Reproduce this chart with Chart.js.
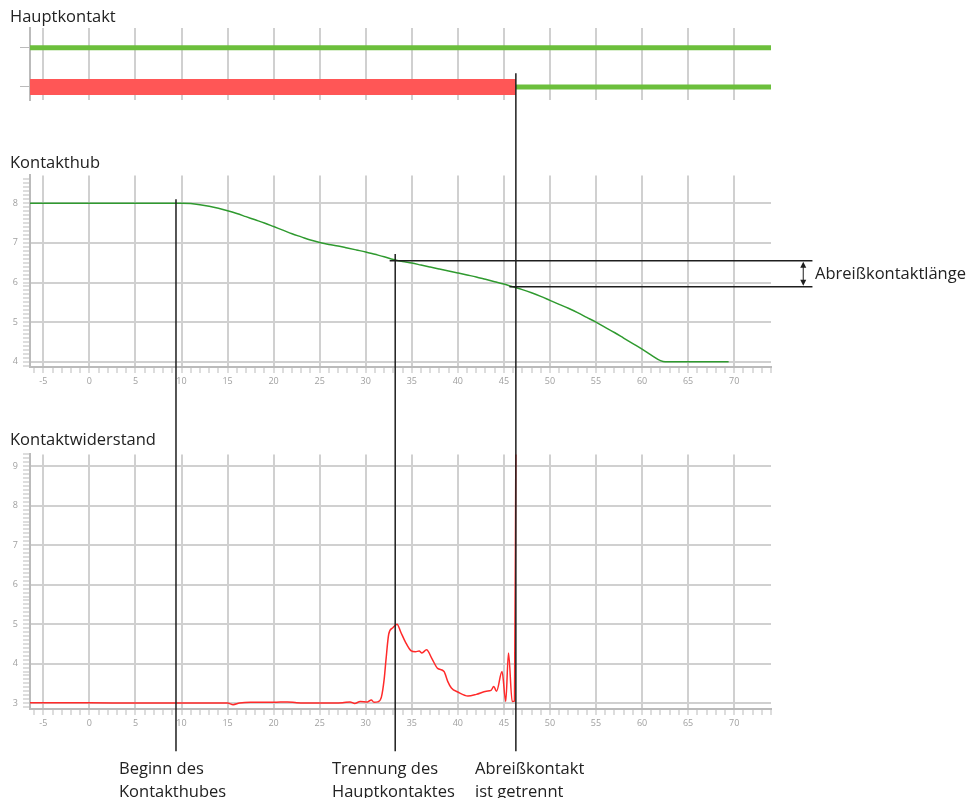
<!DOCTYPE html>
<html><head><meta charset="utf-8">
<script src="https://cdn.jsdelivr.net/npm/chart.js@4"></script>
<style>
html,body{margin:0;padding:0;background:#fff;}
#wrap{position:relative;width:971px;height:798px;overflow:hidden;background:#fff;font-family:"Open Sans",sans-serif;color:#222;}
canvas{position:absolute;left:0;}
.lbl{position:absolute;font-size:16.5px;line-height:16px;white-space:nowrap;}
.ev{position:absolute;font-size:16.5px;line-height:23px;white-space:nowrap;}
</style></head>
<body><div id="wrap">
<canvas id="c1" width="971" height="90" style="top:20px"></canvas>
<canvas id="c2" width="971" height="230" style="top:165px"></canvas>
<canvas id="c3" width="971" height="292" style="top:444px"></canvas>
<canvas id="ov" width="971" height="798" style="top:0;pointer-events:none"></canvas>
<div class="lbl" style="left:10px;top:8px">Hauptkontakt</div>
<div class="lbl" style="left:10px;top:154px">Kontakthub</div>
<div class="lbl" style="left:10px;top:431px">Kontaktwiderstand</div>
<div class="lbl" style="left:815px;top:265px">Abreißkontaktlänge</div>
<div class="ev" style="left:119px;top:756px">Beginn des<br>Kontakthubes</div>
<div class="ev" style="left:332px;top:756px">Trennung des<br>Hauptkontaktes</div>
<div class="ev" style="left:475px;top:756px">Abreißkontakt<br>ist getrennt</div>
</div>
<script>
// ---- data ----
const X_MIN = -6.45, X_MAX = 74;
const rowLevels = [4, 1];
const greenSegments = [[X_MIN, X_MAX, 4], [46.3, X_MAX, 1]];
const redSegments = [[X_MIN, 46.3, 1]];

const hubX = [-6.45, 0, 5, 10, 11, 12, 13, 14, 15, 16, 17, 18, 19, 20, 21, 22, 23, 24, 25, 26, 27, 28, 29, 30, 31, 32, 33, 34, 35, 36, 37, 38, 39, 40, 41, 42, 43, 44, 45, 46, 47, 48, 49, 50, 51, 52, 53, 54, 55, 56, 57, 58, 59, 60, 61, 62, 62.5, 65, 69.4];
const hubY = [8.0, 8.0, 8.0, 8.0, 7.99, 7.96, 7.92, 7.87, 7.81, 7.74, 7.66, 7.58, 7.50, 7.41, 7.32, 7.23, 7.15, 7.07, 7.01, 6.96, 6.92, 6.87, 6.82, 6.77, 6.71, 6.65, 6.58, 6.53, 6.49, 6.44, 6.39, 6.34, 6.29, 6.24, 6.19, 6.14, 6.08, 6.02, 5.96, 5.89, 5.82, 5.74, 5.65, 5.55, 5.45, 5.35, 5.24, 5.12, 5.0, 4.87, 4.74, 4.60, 4.46, 4.32, 4.17, 4.03, 4.0, 4.0, 4.0];

const resX = [-6.45, 0, 5, 10, 14, 15, 15.6, 16.3, 17.5, 20, 21.5, 22.5, 25, 27.5, 28.3, 28.8, 29.4, 30.2, 30.6, 30.9, 31.3, 31.7, 32.0, 32.2, 32.5, 32.9, 33.4, 33.8, 34.3, 34.9, 35.4, 35.8, 36.1, 36.6, 37.2, 37.8, 38.5, 38.9, 39.3, 40.0, 41.1, 42.0, 43.1, 43.6, 43.9, 44.2, 44.8, 45.2, 45.5, 45.9, 46.15, 46.3];
const resY = [3.01, 3.01, 3.0, 3.0, 3.0, 3.0, 2.96, 3.0, 3.02, 3.02, 3.03, 3.01, 3.0, 3.01, 3.03, 2.99, 3.04, 3.03, 3.08, 3.02, 3.03, 3.15, 3.6, 4.1, 4.75, 4.9, 5.0, 4.8, 4.55, 4.33, 4.3, 4.32, 4.27, 4.35, 4.12, 3.88, 3.8, 3.55, 3.38, 3.28, 3.18, 3.22, 3.3, 3.32, 3.42, 3.3, 3.8, 3.04, 4.27, 3.04, 3.05, 9.5];

const eventX = [9.4, 33.2, 46.3];
const lineTopHub = [8.1, 6.72];     // hub units
const lineTopMain = 2.05;           // Hauptkontakt row units
const lineBottomRes = 1.78;         // resistance units
const lengthLevels = [6.55, 5.89];  // hub units of Abreißkontaktlänge
const lengthStartX = [32.6, 45.6];
const lengthEndX = 78.5, arrowX = 77.5;

// ---- helpers ----
const GRID = '#d0d0d0', AXIS = '#bbbbbb', TICKTXT = '#a0a0a0';
const isMajor = (v, s) => Math.abs(v / s - Math.round(v / s)) < 1e-6;
const pts = (xs, ys) => xs.map((x, i) => ({x, y: ys[i]}));

function xAxis(h, minor) {
  return {
    type: 'linear', min: X_MIN, max: X_MAX,
    afterFit(s) { s.height = h; },
    border: {display: h > 0, color: AXIS, width: 2},
    ticks: {
      display: h > 0, stepSize: minor ? 1 : 5, includeBounds: false, autoSkip: false, maxRotation: 0,
      padding: 3, color: TICKTXT, font: {family: 'Open Sans', size: 9},
      callback: v => isMajor(v, 5) ? String(Math.round(v)) : ''
    },
    grid: {
      drawTicks: h > 0, tickLength: 6, tickWidth: 1, tickColor: AXIS,
      color: c => (c.tick && isMajor(c.tick.value, 5)) ? GRID : 'rgba(0,0,0,0)',
      lineWidth: 2
    }
  };
}
function yAxis(min, max) {
  return {
    type: 'linear', min, max,
    afterFit(s) { s.width = 30; },
    border: {color: AXIS, width: 2},
    ticks: {
      stepSize: 0.1, includeBounds: false, autoSkip: false, padding: 5,
      color: TICKTXT, font: {family: 'Open Sans', size: 9},
      callback: v => isMajor(v, 1) ? String(Math.round(v)) : ''
    },
    grid: {
      tickLength: 7, tickWidth: 1, tickColor: AXIS,
      color: c => (c.tick && isMajor(c.tick.value, 1)) ? GRID : 'rgba(0,0,0,0)',
      lineWidth: 2
    }
  };
}
const common = {responsive: false, animation: false, events: [],
  plugins: {legend: {display: false}, tooltip: {enabled: false}},
  elements: {point: {radius: 0}}};

// ---- chart 1: Hauptkontakt ----
const seg = (s, color, w) => ({data: [{x: s[0], y: s[2]}, {x: s[1], y: s[2]}], borderColor: color, borderWidth: w, pointRadius: 0, borderCapStyle: 'butt'});
const ch1 = new Chart(document.getElementById('c1'), {
  type: 'line',
  data: {datasets: [
    ...redSegments.map(s => seg(s, '#ff5656', 16)),
    ...greenSegments.map(s => seg(s, '#6cbf3c', 5))
  ]},
  options: {...common,
    layout: {padding: {top: 8, bottom: 10, left: 0, right: 200}},
    scales: {
      x: xAxis(0, false),
      y: {type: 'linear', min: 0, max: 5.5,
        afterFit(s) { s.width = 30; },
        afterBuildTicks(s) { s.ticks = rowLevels.map(v => ({value: v})); },
        border: {color: AXIS, width: 2},
        ticks: {callback: () => '', padding: 0},
        grid: {drawOnChartArea: false, tickLength: 10, tickWidth: 1, tickColor: AXIS}}
    }}
});

// ---- chart 2: Kontakthub ----
const ch2 = new Chart(document.getElementById('c2'), {
  type: 'line',
  data: {datasets: [{data: pts(hubX, hubY), borderColor: '#2f9a2f', borderWidth: 1.5, cubicInterpolationMode: 'monotone', pointRadius: 0}]},
  options: {...common,
    layout: {padding: {top: 8, bottom: 0, left: 0, right: 200}},
    scales: {x: xAxis(28, true), y: yAxis(3.87, 8.7)}}
});

// ---- chart 3: Kontaktwiderstand ----
const ch3 = new Chart(document.getElementById('c3'), {
  type: 'line',
  data: {datasets: [{data: pts(resX, resY), borderColor: '#ff2a2a', borderWidth: 1.5, cubicInterpolationMode: 'monotone', pointRadius: 0}]},
  options: {...common,
    layout: {padding: {top: 8, bottom: 0, left: 0, right: 200}},
    scales: {x: xAxis(27, true), y: yAxis(2.85, 9.3)}}
});

// ---- overlay annotations ----
const ov = document.getElementById('ov').getContext('2d');
const gx = v => ch2.scales.x.getPixelForValue(v);
const gy = (ch, top, v) => top + ch.scales.y.getPixelForValue(v);
ov.strokeStyle = '#1e1e1e'; ov.fillStyle = '#1e1e1e'; ov.lineWidth = 1.5;
function line(x1, y1, x2, y2) { ov.beginPath(); ov.moveTo(x1, y1); ov.lineTo(x2, y2); ov.stroke(); }
const yBot = gy(ch3, 444, lineBottomRes);
line(gx(eventX[0]), gy(ch2, 165, lineTopHub[0]), gx(eventX[0]), yBot);
line(gx(eventX[1]), gy(ch2, 165, lineTopHub[1]), gx(eventX[1]), yBot);
line(gx(eventX[2]), gy(ch1, 20, lineTopMain), gx(eventX[2]), yBot);
const yA = gy(ch2, 165, lengthLevels[0]), yB = gy(ch2, 165, lengthLevels[1]);
line(gx(lengthStartX[0]), yA, gx(lengthEndX), yA);
line(gx(lengthStartX[1]), yB, gx(lengthEndX), yB);
const ax = gx(arrowX);
ov.lineWidth = 1;
line(ax, yA + 5, ax, yB - 5);
ov.beginPath(); ov.moveTo(ax, yA + 1); ov.lineTo(ax - 3, yA + 7); ov.lineTo(ax + 3, yA + 7); ov.closePath(); ov.fill();
ov.beginPath(); ov.moveTo(ax, yB - 1); ov.lineTo(ax - 3, yB - 7); ov.lineTo(ax + 3, yB - 7); ov.closePath(); ov.fill();
</script>
</body></html>
